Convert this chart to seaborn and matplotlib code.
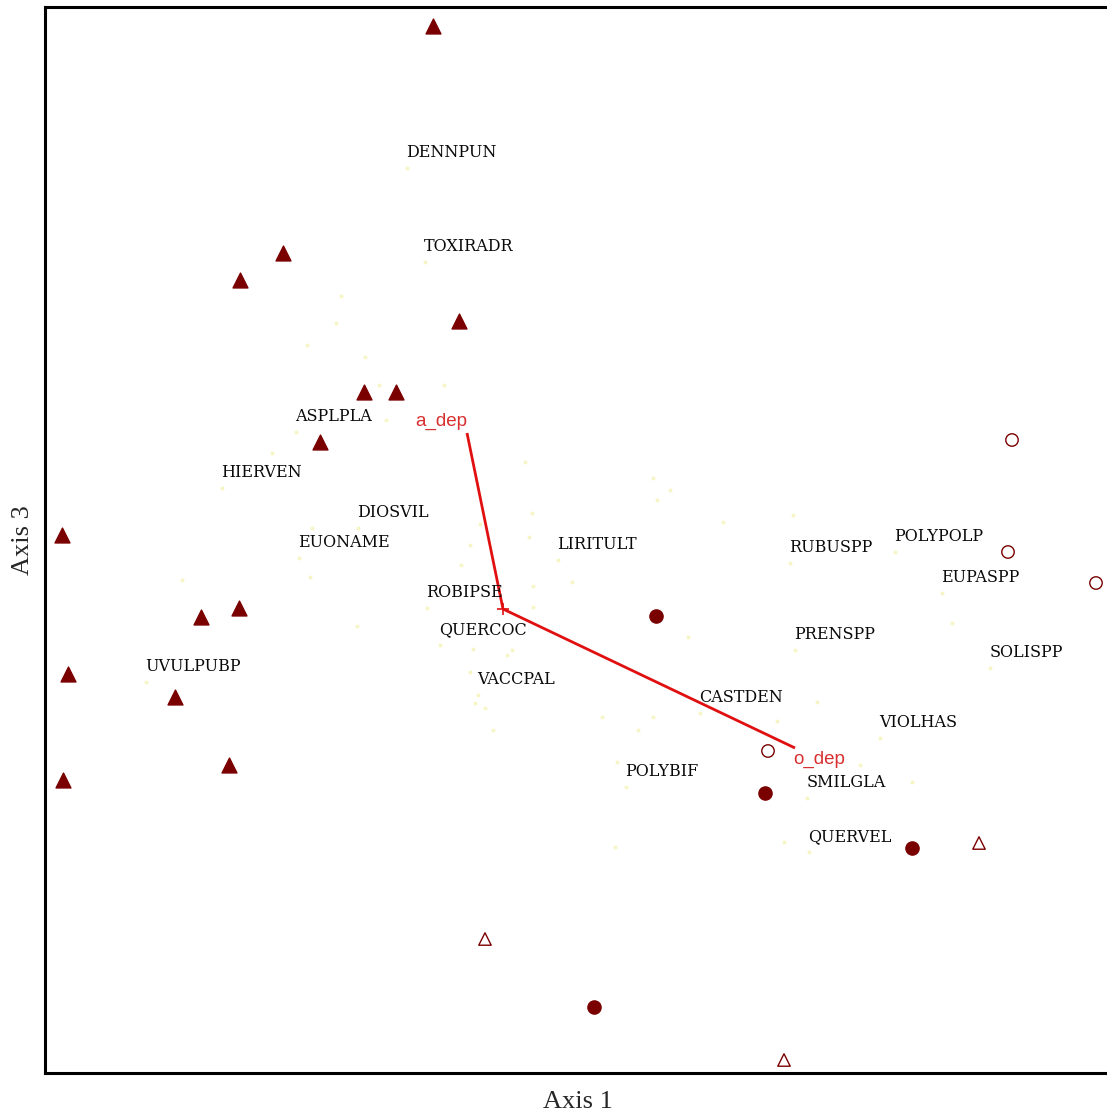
import numpy as np
import pandas as pd
import matplotlib
matplotlib.use("Agg")
import matplotlib.pyplot as plt
import seaborn as sns

# ---- sample scores (Axis 1, Axis 3) by group ----
tri_fill_x = [38.8, 23.8, 19.5, 41.4, 31.9, 35.1, 27.5, 1.7, 19.4, 15.6, 2.3, 13.0, 18.4, 1.8]
tri_fill_y = [104.7, 82.0, 79.3, 75.2, 68.1, 68.1, 63.1, 53.8, 46.5, 45.6, 39.9, 37.6, 30.8, 29.3]

dot_fill_x = [61.1, 72.0, 86.7, 54.9]
dot_fill_y = [45.7, 28.0, 22.5, 6.6]

dot_open_x = [96.7, 96.3, 105.1, 72.3]
dot_open_y = [63.3, 52.1, 49.0, 32.2]

tri_open_x = [93.4, 44.0, 73.9]
tri_open_y = [23.0, 13.4, 1.3]

# ---- species scores ----
species = ["DENNPUN", "TOXIRADR", "ASPLPLA", "HIERVEN", "DIOSVIL", "EUONAME",
           "LIRITULT", "RUBUSPP", "POLYPOLP", "EUPASPP", "ROBIPSE", "QUERCOC",
           "PRENSPP", "SOLISPP", "UVULPUBP", "VACCPAL", "CASTDEN", "VIOLHAS",
           "POLYBIF", "SMILGLA", "QUERVEL"]
species_x = [36.2, 38.0, 25.1, 17.7, 31.3, 25.4, 51.3, 74.5, 85.0, 89.7, 38.2,
             39.5, 75.0, 94.5, 10.1, 43.3, 65.5, 83.5, 58.1, 76.2, 76.4]
species_y = [90.5, 81.1, 64.1, 58.5, 54.5, 51.5, 51.3, 51.0, 52.1, 48.0, 46.5,
             42.8, 42.3, 40.5, 39.1, 37.8, 36.0, 33.5, 28.6, 27.5, 22.1]

# remaining (unlabelled) species
other_x = [29.6, 29.1, 26.2, 32.0, 33.4, 39.9, 34.1, 22.7, 48.0, 48.7, 26.7,
           43.5, 48.4, 42.5, 26.5, 13.7, 48.8, 41.6, 31.2, 48.8, 52.7, 42.8,
           46.2, 46.7, 42.5, 43.0, 44.0, 44.8, 64.3, 55.7, 60.8, 59.3, 57.2,
           67.8, 74.8, 90.7, 77.2, 73.2, 81.5, 86.7, 73.9, 57.0, 60.8, 62.5, 61.2]
other_y = [77.7, 75.0, 72.8, 71.6, 68.8, 68.8, 65.3, 62.0, 61.1, 56.0, 54.5,
           54.9, 53.6, 52.8, 49.6, 49.3, 48.7, 50.8, 44.7, 46.6, 49.1, 42.4,
           41.8, 42.3, 40.1, 37.0, 36.5, 34.3, 43.6, 35.6, 35.6, 34.3, 31.1,
           55.1, 55.8, 45.0, 37.1, 35.2, 30.8, 29.1, 23.1, 22.6, 59.5, 58.3, 57.3]

# ---- environmental vector: centroid and tips ----
vec_names = ["a_dep", "o_dep"]
vec_origin = (45.8, 46.4)
vec_tip_x = [42.2, 75.0]
vec_tip_y = [64.0, 32.5]

DARK = "#7a0000"
RED = "#e01010"
PALE = "#f5f5c6"

sns.set_style("white")
plt.rcParams["font.family"] = ["DejaVu Serif"]

fig = plt.figure(figsize=(11.07, 11.12), dpi=100)
ax = fig.add_axes([45 / 1107, 39 / 1112, 1065 / 1107, 1066 / 1112])

sp_df = pd.DataFrame({"x": species_x + other_x, "y": species_y + other_y})
sns.scatterplot(data=sp_df, x="x", y="y", ax=ax, color=PALE, s=8,
                linewidth=0, marker="o", zorder=2)

groups = [
    (tri_fill_x, tri_fill_y, "^", True, 115),
    (dot_fill_x, dot_fill_y, "o", True, 90),
    (dot_open_x, dot_open_y, "o", False, 80),
    (tri_open_x, tri_open_y, "^", False, 80),
]
for gx, gy, mk, filled, size in groups:
    df = pd.DataFrame({"x": gx, "y": gy})
    sns.scatterplot(data=df, x="x", y="y", ax=ax, marker=mk, s=size,
                    color=DARK, edgecolor=DARK, linewidth=1.0, zorder=4)
    if not filled:
        ax.collections[-1].set_facecolor("none")

# species labels sit just above-right of their points
for name, sx, sy in zip(species, species_x, species_y):
    ax.annotate(name, (sx, sy), xytext=(-0.5, 11), textcoords="offset points",
                ha="left", va="center", fontsize=11.5, color="#0a0a0a", zorder=5)

# joint-plot vector lines from the centroid
for name, tx, ty in zip(vec_names, vec_tip_x, vec_tip_y):
    ax.plot([vec_origin[0], tx], [vec_origin[1], ty], color=RED, lw=2.0,
            solid_capstyle="butt", zorder=3)
ax.plot([vec_origin[0]], [vec_origin[1]], marker="+", color=RED, ms=9,
        mew=1.2, zorder=3)
ax.annotate(vec_names[0], (vec_tip_x[0], vec_tip_y[0]), xytext=(0, 2),
            textcoords="offset points", ha="right", va="bottom",
            fontsize=13.5, color="#d83030", family=["Liberation Sans"])
ax.annotate(vec_names[1], (vec_tip_x[1], vec_tip_y[1]), xytext=(-1, -2),
            textcoords="offset points", ha="left", va="top",
            fontsize=13.5, color="#d83030", family=["Liberation Sans"])

ax.set_xlim(0, 106.5)
ax.set_ylim(0, 106.6)
ax.set_xticks([])
ax.set_yticks([])
ax.set_xlabel("Axis 1", fontsize=19, family=["Liberation Serif"], labelpad=13)
ax.set_ylabel("Axis 3", fontsize=19, family=["Liberation Serif"], labelpad=8)
for side in ["left", "bottom", "top", "right"]:
    ax.spines[side].set_visible(True)
    ax.spines[side].set_color("black")
    ax.spines[side].set_linewidth(2.2)

fig.savefig("out.png", dpi=100, facecolor="white")
